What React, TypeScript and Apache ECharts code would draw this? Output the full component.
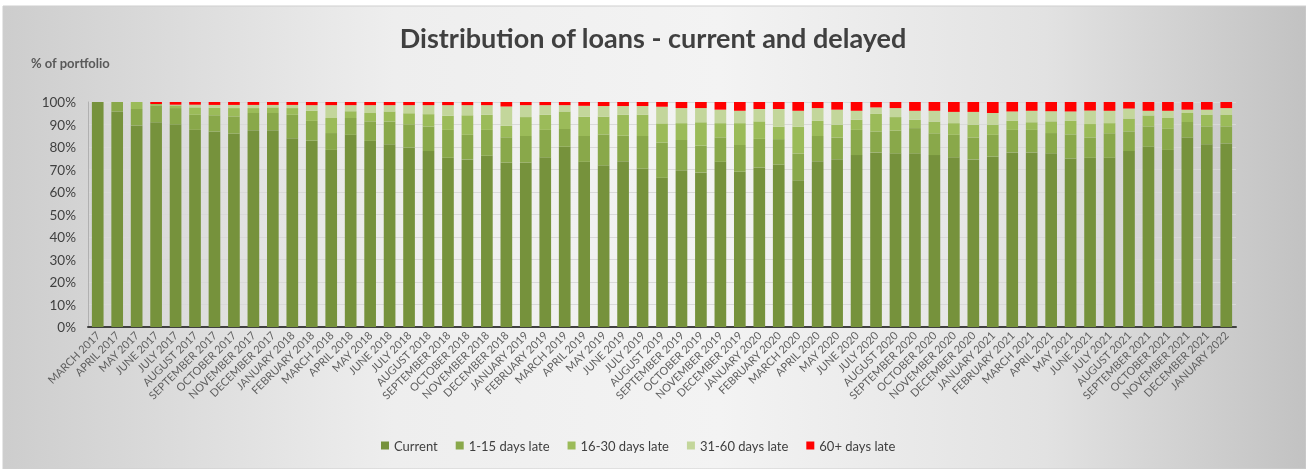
import React, { useEffect, useRef } from "react";
import * as echarts from "echarts";

const months = ["JANUARY","FEBRUARY","MARCH","APRIL","MAY","JUNE","JULY","AUGUST","SEPTEMBER","OCTOBER","NOVEMBER","DECEMBER"];
const categories: string[] = [];
for (let y = 2017; y <= 2022; y++) {
  for (let m = 0; m < 12; m++) {
    if (y === 2017 && m < 2) continue;
    if (y === 2022 && m > 0) continue;
    categories.push(months[m] + " " + y);
  }
}

const current = [100,95.8,89.6,91.0,90.1,87.6,86.9,86.0,87.5,87.5,83.9,82.8,78.7,85.4,82.7,81.2,79.7,78.2,75.2,74.5,76.1,73.1,73.1,75.4,80.1,73.4,71.9,73.7,70.4,66.3,69.7,68.7,73.4,69.0,70.9,72.2,65.2,73.7,74.6,76.4,77.6,77.2,77.2,76.4,75.4,74.5,75.7,77.6,77.6,77.2,74.9,75.2,75.2,78.2,80.1,78.7,84.2,81.2,81.6];
const late1to15 = [0,4.2,7.3,7.5,7.2,6.7,7.2,7.6,7.6,7.6,10.4,8.8,7.5,7.5,8.7,10.1,10.4,10.9,12.4,10.9,11.5,11.2,11.8,12.2,7.9,11.5,13.7,11.3,14.5,15.7,13.4,11.9,10.9,11.9,12.7,11.3,11.9,11.2,9.6,11.2,9.3,10.1,11.2,9.7,10.0,9.7,9.7,10.0,10.0,9.0,10.7,9.0,10.9,8.7,9.0,9.4,6.9,7.9,7.5];
const late16to30 = [0,0,3.1,0.6,1.2,3.3,3.3,3.7,2.2,2.5,3.0,4.5,6.7,3.0,3.7,4.5,4.9,5.5,6.3,8.7,6.7,5.2,8.4,6.7,7.8,8.5,7.9,9.3,9.4,8.5,7.5,10.4,6.3,9.7,7.8,5.5,11.9,6.7,5.7,4.5,7.8,6.0,3.7,5.2,5.2,5.7,4.5,4.0,3.4,5.2,6.0,6.0,4.5,5.7,4.9,4.8,4.0,5.2,5.2];
const late31to60 = [0,0,0,0,0.3,1.2,1.3,1.4,1.4,1.1,1.4,2.5,5.7,2.7,3.5,2.8,3.6,4.0,4.7,4.5,4.3,8.5,5.3,4.3,2.8,4.9,4.7,3.9,3.9,7.4,6.7,6.3,6.0,5.5,5.5,7.9,7.1,5.7,6.7,4.0,2.9,4.0,4.0,4.8,5.0,5.7,5.2,4.2,5.1,4.5,4.2,6.0,5.5,4.5,2.1,3.2,1.5,2.3,3.0];
const late60plus = [0,0,0,0.9,1.2,1.2,1.3,1.3,1.3,1.3,1.3,1.4,1.4,1.4,1.4,1.4,1.4,1.4,1.4,1.4,1.4,2.0,1.4,1.4,1.4,1.7,1.8,1.8,1.8,2.1,2.7,2.7,3.4,3.9,3.1,3.1,3.9,2.7,3.4,3.9,2.4,2.7,3.9,3.9,4.4,4.4,4.9,4.2,3.9,4.1,4.2,3.8,3.9,2.9,3.9,3.9,3.4,3.4,2.7];

const seriesNames = ["Current", "1-15 days late", "16-30 days late", "31-60 days late", "60+ days late"];
const seriesColors = ["#76923C", "#89A84A", "#9BBB59", "#C3D69B", "#FF0000"];
const seriesData = [current, late1to15, late16to30, late31to60, late60plus];
const yTicks = { min: 0, max: 100, interval: 10 };

const FONT = "Lato, 'Open Sans', sans-serif";

export default function App() {
  const ref = useRef<HTMLDivElement>(null);
  useEffect(() => {
    if (!ref.current) return;
    const chart = echarts.init(ref.current, null, { renderer: "svg" });
    chart.setOption({
      animation: false,
      graphic: [
        {
          type: "rect",
          z: -10,
          silent: true,
          shape: { x: 3, y: 6, width: 1303, height: 463 },
          style: {
            fill: new echarts.graphic.LinearGradient(0, 0, 1, 0, [
              { offset: 0, color: "#cdcdcd" },
              { offset: 0.3, color: "#eeeeee" },
              { offset: 0.55, color: "#f3f3f3" },
              { offset: 0.8, color: "#e2e2e2" },
              { offset: 1, color: "#c2c2c2" },
            ]),
            stroke: "#cfcfcf",
            lineWidth: 1,
          },
        },
        {
          type: "text",
          left: 31,
          top: 56,
          style: { text: "% of portfolio", fill: "#595959", font: `bold 13px ${FONT}` },
        },
      ],
      title: {
        text: "Distribution of loans - current and delayed",
        left: "center",
        top: 19,
        textStyle: { fontFamily: FONT, fontSize: 27, fontWeight: "bold", color: "#404040" },
      },
      legend: {
        bottom: 12,
        left: 376,
        itemWidth: 8,
        itemHeight: 8,
        itemGap: 18,
        icon: "rect",
        textStyle: { fontFamily: FONT, fontSize: 13, color: "#404040" },
        data: seriesNames,
      },
      grid: { left: 88, right: 70, top: 102, bottom: 142, containLabel: false },
      xAxis: {
        type: "category",
        data: categories,
        axisLine: { lineStyle: { color: "#404040", width: 2 } },
        axisTick: { show: false },
        axisLabel: {
          rotate: 45,
          interval: 0,
          fontFamily: FONT,
          fontSize: 11,
          color: "#5f5f5f",
          margin: 6,
        },
      },
      yAxis: {
        type: "value",
        ...yTicks,
        axisLine: { show: true, lineStyle: { color: "#b0b0b0", width: 1 } },
        axisTick: { show: false },
        splitLine: { lineStyle: { color: "#d9d9d9", width: 1 } },
        axisLabel: {
          formatter: "{value}%",
          fontFamily: FONT,
          fontSize: 13.5,
          color: "#404040",
          margin: 12,
        },
      },
      series: seriesNames.map((name, i) => ({
        name,
        type: "bar",
        stack: "total",
        barCategoryGap: "40%",
        itemStyle: { color: seriesColors[i] },
        data: seriesData[i],
      })),
    });
    return () => chart.dispose();
  }, []);
  return (
    <div
      ref={ref}
      style={{ position: "fixed", left: 0, top: 0, width: 1306, height: 469 }}
    />
  );
}
